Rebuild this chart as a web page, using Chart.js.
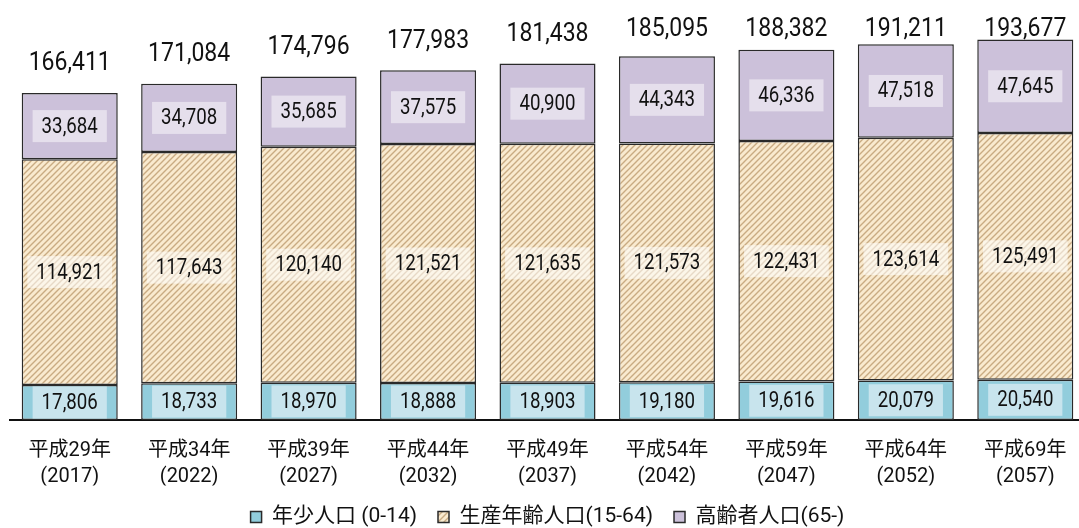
<!DOCTYPE html>
<html>
<head>
<meta charset="utf-8">
<script src="https://cdn.jsdelivr.net/npm/chart.js@4.4.1/dist/chart.umd.min.js"></script>
<style>
  html, body { margin: 0; padding: 0; background: #fff; overflow: hidden; }
  #wrap { width: 1079px; height: 528px; overflow: hidden; }
</style>
</head>
<body>
<div id="wrap"><canvas id="chart" width="1085" height="528"></canvas></div>
<script>
const categories = [
  ["平成29年", "(2017)"], ["平成34年", "(2022)"], ["平成39年", "(2027)"],
  ["平成44年", "(2032)"], ["平成49年", "(2037)"], ["平成54年", "(2042)"],
  ["平成59年", "(2047)"], ["平成64年", "(2052)"], ["平成69年", "(2057)"]
];
const youth = [17806, 18733, 18970, 18888, 18903, 19180, 19616, 20079, 20540];
const working = [114921, 117643, 120140, 121521, 121635, 121573, 122431, 123614, 125491];
const elderly = [33684, 34708, 35685, 37575, 40900, 44343, 46336, 47518, 47645];
const totals = [166411, 171084, 174796, 177983, 181438, 185095, 188382, 191211, 193677];

const FONT = "Roboto, 'Noto Sans CJK JP', sans-serif";

// diagonal hatch for the working-age series
function makeHatch() {
  const c = document.createElement("canvas");
  c.width = 6; c.height = 6;
  const g = c.getContext("2d");
  g.fillStyle = "#f9eacf";
  g.fillRect(0, 0, 6, 6);
  g.strokeStyle = "#c9ab82";
  g.lineWidth = 1.4;
  g.beginPath();
  g.moveTo(-1, 7); g.lineTo(7, -1);
  g.moveTo(-4, 4); g.lineTo(4, -4);
  g.moveTo(2, 10); g.lineTo(10, 2);
  g.stroke();
  return g.createPattern(c, "repeat");
}

const segLabels = {
  id: "segLabels",
  afterDatasetsDraw(chart) {
    const ctx = chart.ctx;
    chart.data.datasets.forEach(function (ds, i) {
      const meta = chart.getDatasetMeta(i);
      meta.data.forEach(function (bar, j) {
        const txt = ds.data[j].toLocaleString("en-US");
        const cy = (bar.y + bar.base) / 2;
        ctx.save();
        ctx.font = "22px " + FONT;
        const w = ctx.measureText(txt).width * 0.85;
        ctx.fillStyle = ds.labelBg;
        ctx.fillRect(bar.x - w / 2 - 9, cy - 16, w + 18, 32);
        ctx.fillStyle = "#111";
        ctx.textAlign = "center";
        ctx.textBaseline = "middle";
        ctx.translate(bar.x, cy + 1);
        ctx.scale(0.85, 1);
        ctx.fillText(txt, 0, 0);
        ctx.restore();
      });
    });
    // totals above each stack
    const top = chart.getDatasetMeta(chart.data.datasets.length - 1);
    top.data.forEach(function (bar, j) {
      const y = Math.max(bar.y - 29, 30);
      ctx.save();
      ctx.font = "25px " + FONT;
      ctx.fillStyle = "#111";
      ctx.textAlign = "center";
      ctx.textBaseline = "middle";
      ctx.translate(bar.x, y);
      ctx.scale(0.92, 1);
      ctx.fillText(totals[j].toLocaleString("en-US"), 0, 0);
      ctx.restore();
    });
  }
};

const ctx = document.getElementById("chart").getContext("2d");
const common = { borderColor: "#2a2a2a", borderWidth: 1.5, borderSkipped: false,
  barPercentage: 0.804, categoryPercentage: 1 };

new Chart(ctx, {
  type: "bar",
  data: {
    labels: categories,
    datasets: [
      Object.assign({ label: "年少人口 (0-14)", data: youth,
        backgroundColor: "#92cddc", labelBg: "#c8e4ed" }, common),
      Object.assign({ label: "生産年齢人口(15-64)", data: working,
        backgroundColor: makeHatch(), labelBg: "rgba(255,255,255,0.55)" }, common),
      Object.assign({ label: "高齢者人口(65-)", data: elderly,
        backgroundColor: "#ccc1da", labelBg: "#e5dfec" }, common)
    ]
  },
  options: {
    responsive: false,
    animation: false,
    layout: { padding: { left: 10, right: 0, top: 27, bottom: -9.5 } },
    plugins: {
      tooltip: { enabled: false },
      legend: {
        position: "bottom",
        labels: {
          boxWidth: 11,
          boxHeight: 11,
          padding: 21,
          color: "#111",
          font: { family: FONT, size: 21 }
        }
      }
    },
    scales: {
      x: {
        stacked: true,
        grid: { display: false, drawTicks: false },
        border: { display: true, color: "#111", width: 2 },
        ticks: {
          color: "#111",
          padding: 18,
          font: { family: FONT, size: 20, lineHeight: 1.3 }
        },
        afterFit: function (scale) { scale.height = 65.5; }
      },
      y: {
        stacked: true,
        display: false,
        min: 0,
        max: 200000
      }
    }
  },
  plugins: [segLabels]
});
</script>
</body>
</html>
